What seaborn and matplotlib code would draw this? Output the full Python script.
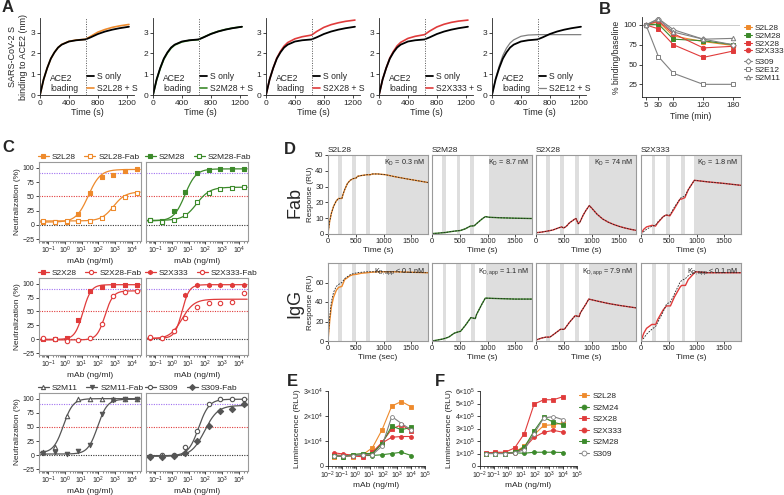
import numpy as np
import matplotlib
matplotlib.use("Agg")
import matplotlib.pyplot as plt
import seaborn as sns
from matplotlib.lines import Line2D
from matplotlib.ticker import LogLocator, FuncFormatter, NullFormatter

sns.set_theme(style="ticks")
plt.rcParams["font.family"] = ["Liberation Sans", "DejaVu Sans"]
plt.rcParams["mathtext.fontset"] = "custom"
plt.rcParams["mathtext.rm"] = "Liberation Sans"
plt.rcParams["mathtext.it"] = "Liberation Sans:italic"
plt.rcParams["mathtext.default"] = "regular"
plt.rcParams["axes.linewidth"] = 0.6
plt.rcParams["axes.edgecolor"] = "#222222"

ORANGE = "#ee8a2c"
GREEN = "#3c8a2b"
RED = "#e03b3b"
GRAY = "#808080"
DARK = "#555555"
PURPLE = "#a070f0"

# ---- panel A : ACE2 loading then S +/- mAb
a_time = [0, 50, 100, 150, 200, 250, 300, 400, 500, 630, 700, 800, 900, 1000, 1100, 1230]
a_s_only = [0, 0.75, 1.3, 1.75, 2.05, 2.28, 2.42, 2.57, 2.63, 2.67, 2.77, 2.93, 3.05, 3.14, 3.21, 3.28]
a_s2l28 = [0, 0.75, 1.3, 1.75, 2.05, 2.28, 2.43, 2.58, 2.64, 2.68, 2.82, 3.02, 3.15, 3.25, 3.32, 3.39]
a_s2m28 = [0, 0.72, 1.27, 1.72, 2.02, 2.25, 2.4, 2.55, 2.62, 2.66, 2.78, 2.94, 3.06, 3.15, 3.22, 3.28]
a_s2x28 = [0, 0.75, 1.3, 1.78, 2.1, 2.35, 2.52, 2.7, 2.8, 2.88, 3.05, 3.25, 3.38, 3.47, 3.54, 3.6]
a_s2x333 = [0, 0.75, 1.3, 1.78, 2.1, 2.36, 2.53, 2.72, 2.82, 2.9, 3.07, 3.27, 3.4, 3.49, 3.55, 3.6]
a_s2e12 = [0, 0.8, 1.4, 1.9, 2.25, 2.5, 2.65, 2.82, 2.88, 2.9, 2.9, 2.9, 2.9, 2.9, 2.9, 2.9]

# ---- panel B
b_time = [5, 30, 60, 120, 180]
b_s2l28 = [100, 104, 86, 79, 74]
b_s2m28 = [100, 101, 82, 80, 75]
b_s2x28 = [100, 95, 75, 59, 67]
b_s2x333 = [100, 105, 89, 71, 73]
b_s309 = [100, 108, 94, 82, 75]
b_s2e12 = [100, 60, 39, 25, 25]
b_s2m11 = [100, 107, 91, 82, 83]

# ---- panel C : neutralization, conc in ng/ml
c_conc = [0.0512, 0.256, 1.28, 6.4, 32, 160, 800, 4000, 20000]
c_s2l28 = [5, 5, 5, 20, 55, 83, 87, 95, 97]
c_s2l28_fab = [7, 5, 7, 7, 7, 12, 30, 49, 56]
c_s2m28 = [8, 7, 25, 58, 90, 96, 97, 98, 98]
c_s2m28_fab = [8, 6, 9, 18, 40, 56, 63, 65, 66]
c_s2x28 = [0, 1, 2, 35, 86, 94, 97, 97, 98]
c_s2x28_fab = [2, 0, -3, -2, 2, 28, 78, 85, 86]
c_s2x333 = [3, 2, 15, 80, 97, 97, 98, 98, 98]
c_s2x333_fab = [4, 2, 15, 38, 58, 65, 66, 67, 83]
c_s2m11 = [5, 14, 70, 100, 100, 100, 100, 100, 100]
c_s2m11_fab = [3, 5, 2, 7, 18, 72, 98, 99, 99]
c_s309 = [-2, 0, 0, 15, 43, 90, 99, 99, 99]
c_s309_fab = [-3, -3, -1, 3, 25, 52, 78, 82, 90]
# fitted curve params: bottom, top, EC50, hill
c_s2l28_fit = [5, 97, 25, 1.2]
c_s2l28_fab_fit = [7, 58, 800, 1.2]
c_s2m28_fit = [7, 98, 6, 1.3]
c_s2m28_fab_fit = [8, 66, 30, 1.1]
c_s2x28_fit = [0, 98, 12, 1.8]
c_s2x28_fab_fit = [-1, 87, 250, 1.8]
c_s2x333_fit = [2, 98, 4, 2.0]
c_s2x333_fab_fit = [1, 72, 4, 1.2]
c_s2m11_fit = [4, 100, 0.8, 1.5]
c_s2m11_fab_fit = [2, 99, 90, 1.5]
c_s309_fit = [-1, 99, 40, 1.4]
c_s309_fab_fit = [-2, 88, 90, 1.1]

# ---- panel D : SPR sensorgrams
fab_s2l28_t = [0, 30, 60, 100, 150, 190, 250, 270, 300, 350, 400, 450, 510, 530, 600, 700, 760, 800, 900, 1040, 1200, 1400, 1600, 1800]
fab_s2l28_y = [0, 8, 13, 17.5, 21, 22.5, 22.5, 25, 28, 32, 34, 35, 35.5, 36.5, 37, 37.5, 37.5, 38, 38, 37.5, 36.3, 35, 33.8, 32.6]
fab_s2m28_t = [0, 100, 190, 250, 300, 400, 450, 510, 600, 690, 760, 800, 900, 960, 1030, 1200, 1500, 1800]
fab_s2m28_y = [0.3, 0.5, 0.8, 1, 1.3, 1.8, 2, 2.2, 3.3, 5, 5.2, 6.5, 9.5, 11, 10.6, 10.3, 10, 9.8]
fab_s2x28_t = [0, 100, 200, 300, 400, 460, 500, 550, 600, 700, 720, 760, 790, 850, 900, 960, 1000, 1100, 1200, 1300, 1400, 1500, 1600, 1700, 1800]
fab_s2x28_y = [0.8, 1.2, 1.8, 2.5, 3.8, 4.5, 3.8, 5, 7, 9.5, 9.8, 6.5, 7.5, 12, 15, 18, 16.5, 12.5, 9.5, 7.5, 6, 4.8, 3.8, 3, 2.3]
fab_s2x333_t = [0, 50, 100, 200, 260, 300, 400, 450, 520, 600, 700, 720, 790, 850, 960, 1200, 1500, 1800]
fab_s2x333_y = [0.3, 3, 4.5, 5.5, 5, 7, 11, 12, 11.5, 16, 22, 22, 23, 28, 34, 33, 32, 30.8]
fab_s2x333_fit = [0, 1.5, 3, 5, 5.5, 7.5, 11, 12, 12, 17, 22, 23, 24, 28, 34, 33, 32, 30.8]

igg_s2l28_t = [0, 30, 60, 100, 150, 190, 250, 300, 400, 450, 520, 600, 700, 770, 900, 1040, 1200, 1500, 1800]
igg_s2l28_y = [0, 20, 35, 45, 52, 55, 56, 63, 67, 68, 68.5, 69.5, 70, 70.5, 71, 71, 71, 70.5, 70]
igg_s2l28_fit = [0, 24, 40, 50, 56, 58, 60, 64, 68, 69, 70, 70.5, 71, 71, 71, 71, 71, 70.5, 70]
igg_s2m28_t = [0, 100, 190, 250, 300, 400, 450, 515, 600, 700, 780, 800, 900, 960, 1200, 1500, 1800]
igg_s2m28_y = [0, 1, 2, 3, 4, 8, 9, 10, 16, 24, 23, 27, 38, 44, 43.5, 43, 43]
igg_s2x28_t = [0, 100, 180, 250, 300, 440, 510, 600, 705, 775, 800, 900, 950, 1100, 1300, 1500, 1800]
igg_s2x28_y = [1, 3, 4, 4, 6, 12, 12, 19, 26, 25, 29, 38, 43, 41, 38.5, 36.5, 34]
igg_s2x333_t = [0, 50, 100, 195, 265, 300, 400, 460, 530, 600, 700, 730, 800, 850, 980, 1200, 1800]
igg_s2x333_y = [0, 8, 13, 17, 17, 22, 32, 36, 36, 45, 55, 57, 57, 63, 71, 70, 70]
igg_s2x333_fit = [0, 3, 7, 12, 15, 19, 30, 38, 40, 48, 60, 62, 64, 67, 71, 70, 70]

# gray buffer (dissociation) windows, s
fab_bands = [[(180, 250), (440, 510), (690, 760), (1040, 1800)],
             [(185, 255), (445, 510), (690, 760), (1030, 1800)],
             [(180, 255), (440, 510), (705, 775), (955, 1800)],
             [(190, 260), (450, 520), (720, 790), (960, 1800)]]
igg_bands = [[(180, 250), (440, 510), (690, 760), (1040, 1800)],
             [(190, 250), (440, 515), (705, 780), (980, 1800)],
             [(180, 250), (440, 510), (705, 775), (950, 1800)],
             [(195, 265), (460, 530), (730, 800), (980, 1800)]]

# ---- panels E / F : luminescence
e_conc = [0.0256, 0.128, 0.64, 3.2, 16, 80, 400, 2000, 10000]
e_s2l28 = [3800, 4200, 3800, 4500, 7300, 14500, 24000, 25800, 23700]
e_s2m24 = [4300, 3800, 4500, 4200, 4200, 4500, 5000, 5500, 4200]
e_s2x28 = [4500, 4200, 4000, 3700, 5500, 9500, 14800, 16500, 14000]
e_s2x333 = [5300, 4800, 4300, 4300, 5000, 9200, 11500, 11800, 11800]
e_s2m28 = [4200, 3700, 4600, 5000, 5000, 9000, 16000, 14500, 15500]
e_s309 = [4000, 4000, 4000, 4500, 4500, 8000, 19800, 17000, 14500]
f_s2l28 = [1.0e5, 1.05e5, 1.05e5, 1.1e5, 1.6e5, 2.5e5, 3.25e5, 3.3e5, 3.45e5]
f_s2m24 = [1.0e5, 1.0e5, 1.0e5, 1.05e5, 1.02e5, 1.1e5, 1.1e5, 1.1e5, 1.08e5]
f_s2x28 = [1.05e5, 1.1e5, 1.1e5, 1.45e5, 2.6e5, 4.95e5, 5.3e5, 5.3e5, 5.55e5]
f_s2x333 = [1.0e5, 1.05e5, 1.0e5, 1.05e5, 1.45e5, 2.3e5, 2.7e5, 2.85e5, 2.7e5]
f_s2m28 = [1.0e5, 1.0e5, 1.0e5, 1.1e5, 1.5e5, 2.8e5, 3.9e5, 3.5e5, 3.3e5]
f_s309 = [1.0e5, 1.0e5, 1.0e5, 1.05e5, 1.3e5, 2.6e5, 3.85e5, 3.95e5, 3.7e5]

W, H = 784, 495
fig = plt.figure(figsize=(W / 100, H / 100), dpi=100)


def px_axes(left, top, right, bottom):
    return fig.add_axes([left / W, 1 - bottom / H, (right - left) / W, (bottom - top) / H])


def prism(ax, size=5.5):
    sns.despine(ax=ax)
    ax.tick_params(labelsize=size, length=2, width=0.6, pad=1.5)
    ax.tick_params(which="minor", length=1.2, width=0.4)


def boxed(ax, size=5.5):
    for s in ax.spines.values():
        s.set_color("#9a9a9a")
        s.set_linewidth(0.8)
    ax.tick_params(labelsize=size, length=2, width=0.6, pad=1.2)
    ax.tick_params(which="minor", length=1.2, width=0.4)


def letter(x, y, s):
    fig.text(x / W, 1 - y / H, s, fontsize=12, fontweight="bold", ha="center", va="center")


def panel_a():
    pairs = [("S2L28 + S", a_s2l28, ORANGE, 1.2), ("S2M28 + S", a_s2m28, GREEN, 1.2),
             ("S2X28 + S", a_s2x28, RED, 1.2), ("S2X333 + S", a_s2x333, RED, 1.2),
             ("S2E12 + S", a_s2e12, GRAY, 0.9)]
    for i, (lab, vals, col, lw) in enumerate(pairs):
        left = 40 + 113 * i
        ax = px_axes(left, 18, left + 94, 95)
        sns.lineplot(x=a_time, y=vals, color=col, lw=lw, ax=ax)
        sns.lineplot(x=a_time, y=a_s_only, color="black", lw=1.3, ax=ax)
        ax.axvline(630, color="#555555", ls=(0, (1, 1.5)), lw=0.7)
        ax.set_xlim(0, 1300)
        ax.set_ylim(0, 3.7)
        ax.set_xticks([0, 400, 800, 1200])
        ax.set_yticks([0, 1, 2, 3])
        ax.set_xlabel("Time (s)", fontsize=6.5, labelpad=1)
        ax.set_ylabel("")
        if i == 0:
            ax.set_ylabel("SARS-CoV-2 S\nbinding to ACE2 (nm)", fontsize=6.5, labelpad=2)
        ax.text(140, 0.55, "ACE2\nloading", fontsize=6.2, ha="left", va="center", linespacing=1.2)
        hands = [Line2D([], [], color="black", lw=1.3), Line2D([], [], color=col, lw=lw)]
        ax.legend(hands, ["S only", lab], loc="lower left", bbox_to_anchor=(0.5, 0.03), frameon=False,
                  fontsize=6.2, handlelength=0.8, handletextpad=0.4, labelspacing=0.35, borderpad=0,
                  borderaxespad=0)
        prism(ax, 6)
    letter(8, 8, "A")


def panel_b():
    ax = px_axes(642, 17, 740, 97)
    ax.axhline(100, color="#cccccc", lw=0.7, zorder=0)
    series = [("S2L28", b_s2l28, ORANGE, "s", True), ("S2M28", b_s2m28, GREEN, "s", True),
              ("S2X28", b_s2x28, RED, "s", True), ("S2X333", b_s2x333, RED, "o", True),
              ("S309", b_s309, GRAY, "D", False), ("S2E12", b_s2e12, GRAY, "s", False),
              ("S2M11", b_s2m11, GRAY, "^", False)]
    hands = []
    for lab, vals, col, mk, filled in series:
        fc = col if filled else "white"
        ms = 3.2 if mk != "D" else 2.8
        sns.lineplot(x=b_time, y=vals, color=col, lw=0.8, marker=mk, markersize=ms,
                     markerfacecolor=fc, markeredgecolor=col, markeredgewidth=0.7, ax=ax)
        hands.append(Line2D([], [], color=col, lw=0.8, marker=mk, markersize=ms,
                            markerfacecolor=fc, markeredgecolor=col, markeredgewidth=0.7))
    ax.set_xlim(-3, 194)
    ax.set_ylim(9, 110)
    ax.set_xticks(b_time)
    ax.set_yticks([25, 50, 75, 100])
    ax.set_xlabel("Time (min)", fontsize=6.2, labelpad=2)
    ax.set_ylabel("% binding/baseline", fontsize=6.2, labelpad=2)
    prism(ax, 5.8)
    names = [s[0] for s in series]
    kw = dict(loc="upper left", frameon=False, fontsize=6, handlelength=0.9, handletextpad=0.35,
              labelspacing=0.0, borderaxespad=0, borderpad=0)
    leg1 = ax.legend(hands[:4], names[:4], bbox_to_anchor=(744 / W, 1 - 24 / H),
                     bbox_transform=fig.transFigure, **kw)
    ax.add_artist(leg1)
    ax.legend(hands[4:], names[4:], bbox_to_anchor=(744 / W, 1 - 58 / H),
              bbox_transform=fig.transFigure, **kw)
    letter(605, 10, "B")


def logistic(x, p):
    bottom, top, ec50, hill = p
    return bottom + (top - bottom) / (1 + (ec50 / x) ** hill)


def panel_c():
    panels = [
        (0, 0, [("S2L28", c_s2l28, c_s2l28_fit, ORANGE, "s", True),
                ("S2L28-Fab", c_s2l28_fab, c_s2l28_fab_fit, ORANGE, "s", False)]),
        (0, 1, [("S2M28", c_s2m28, c_s2m28_fit, GREEN, "s", True),
                ("S2M28-Fab", c_s2m28_fab, c_s2m28_fab_fit, GREEN, "s", False)]),
        (1, 0, [("S2X28", c_s2x28, c_s2x28_fit, RED, "s", True),
                ("S2X28-Fab", c_s2x28_fab, c_s2x28_fab_fit, RED, "o", False)]),
        (1, 1, [("S2X333", c_s2x333, c_s2x333_fit, RED, "h", True),
                ("S2X333-Fab", c_s2x333_fab, c_s2x333_fab_fit, RED, "o", False)]),
        (2, 0, [("S2M11", c_s2m11, c_s2m11_fit, DARK, "^", False),
                ("S2M11-Fab", c_s2m11_fab, c_s2m11_fab_fit, DARK, "v", True)]),
        (2, 1, [("S309", c_s309, c_s309_fit, DARK, "o", False),
                ("S309-Fab", c_s309_fab, c_s309_fab_fit, DARK, "D", True)]),
    ]
    tops = [162, 278, 393]
    bottoms = [241, 355, 471]
    lefts = [39, 146]
    xfit = np.logspace(-1.6, 4.5, 200)
    for r, c, items in panels:
        ax = px_axes(lefts[c], tops[r], lefts[c] + 102, bottoms[r])
        ax.set_xscale("log")
        ax.axhline(90, color=PURPLE, ls=(0, (1, 1.2)), lw=0.8, zorder=0)
        ax.axhline(50, color=RED, ls=(0, (1, 1.2)), lw=0.8, zorder=0)
        ax.axhline(0, color="#333333", ls=(0, (1, 1.2)), lw=0.8, zorder=0)
        hands = []
        for lab, vals, fitp, col, mk, filled in items:
            fc = col if filled else "white"
            ax.plot(xfit, logistic(xfit, fitp), color=col, lw=0.9)
            sns.scatterplot(x=c_conc, y=vals, marker=mk, s=10, color=col, facecolor=fc,
                            edgecolor=col, linewidth=0.8, ax=ax, zorder=3)
            hands.append(Line2D([], [], color=col, lw=0.9, marker=mk, markersize=3,
                                markerfacecolor=fc, markeredgecolor=col, markeredgewidth=0.8))
        ax.set_xlim(10 ** -1.55, 10 ** 4.55)
        ax.set_ylim(-28, 110)
        ax.set_yticks([-25, 0, 25, 50, 75, 100])
        ax.xaxis.set_major_locator(LogLocator(base=10, numticks=20))
        ax.xaxis.set_minor_locator(LogLocator(base=10, subs=[2, 3, 4, 5, 6, 7, 8, 9], numticks=20))
        ax.xaxis.set_minor_formatter(NullFormatter())
        ax.set_xlabel("mAb (ng/ml)", fontsize=6, labelpad=1.5)
        if c == 0:
            ax.set_ylabel("Neutralization (%)", fontsize=6, labelpad=1)
        else:
            ax.tick_params(axis="y", left=False, labelleft=False)
        boxed(ax, 5.0)
        ax.tick_params(axis="x", pad=0.8)
        ax.legend(hands, [it[0] for it in items], loc="lower left", bbox_to_anchor=(-0.02, 1.0), ncol=2,
                  frameon=False, fontsize=6, handlelength=1.3, handletextpad=0.4, columnspacing=1.0,
                  borderaxespad=0, borderpad=0.1)
    letter(8, 148, "C")


def panel_d():
    fab = [("S2L28", fab_s2l28_t, fab_s2l28_y, fab_s2l28_y, ORANGE, r"K$_D$ = 0.3 nM"),
           ("S2M28", fab_s2m28_t, fab_s2m28_y, fab_s2m28_y, GREEN, r"K$_D$ = 8.7 nM"),
           ("S2X28", fab_s2x28_t, fab_s2x28_y, fab_s2x28_y, RED, r"K$_D$ = 74 nM"),
           ("S2X333", fab_s2x333_t, fab_s2x333_y, fab_s2x333_fit, RED, r"K$_D$ = 1.8 nM")]
    igg = [("S2L28", igg_s2l28_t, igg_s2l28_y, igg_s2l28_fit, ORANGE, r"K$_{D,app}$ < 0.1 nM"),
           ("S2M28", igg_s2m28_t, igg_s2m28_y, igg_s2m28_y, GREEN, r"K$_{D,app}$ = 1.1 nM"),
           ("S2X28", igg_s2x28_t, igg_s2x28_y, igg_s2x28_y, RED, r"K$_{D,app}$ = 7.9 nM"),
           ("S2X333", igg_s2x333_t, igg_s2x333_y, igg_s2x333_fit, RED, r"K$_{D,app}$ < 0.1 nM")]
    lefts = [328, 432, 536, 641]
    for row, (data, bands, top, bottom, ymax, yt) in enumerate([
            (fab, fab_bands, 155, 234, 50, [0, 10, 20, 30, 40, 50]),
            (igg, igg_bands, 263, 341, 80, [0, 20, 40, 60])]):
        for j, (name, t, y, yfit, col, kd) in enumerate(data):
            ax = px_axes(lefts[j], top, lefts[j] + 100, bottom)
            for a, b in bands[j]:
                ax.axvspan(a, b, color="#dedede", lw=0, zorder=0)
            sns.lineplot(x=t, y=y, color=col, lw=1.0, ax=ax)
            ax.plot(t, yfit, color="#222222", ls=(0, (2, 1.5)), lw=0.6)
            ax.set_xlim(0, 1800)
            ax.set_ylim(0, ymax)
            ax.set_xticks([0, 500, 1000, 1500])
            ax.set_yticks(yt)
            ax.text(0.97, 0.96, kd, transform=ax.transAxes, ha="right", va="top", fontsize=5.2)
            xl = "Time (sec)" if (row == 1 and j == 0) else "Time (s)"
            ax.set_xlabel(xl, fontsize=6, labelpad=1)
            if j == 0:
                ax.set_ylabel("Response (RU)", fontsize=5.8, labelpad=1)
            else:
                ax.set_ylabel("")
                ax.tick_params(axis="y", left=False, labelleft=False)
            if row == 0:
                ax.set_title(name, loc="left", fontsize=6, pad=2)
            boxed(ax, 5.5)
    fig.text(295 / W, 1 - 203 / H, "Fab", rotation=90, fontsize=13, ha="center", va="center")
    fig.text(295 / W, 1 - 303 / H, "IgG", rotation=90, fontsize=13, ha="center", va="center")
    letter(290, 150, "D")


def lum_fmt(v, pos):
    if v == 0:
        return "0"
    e = int(np.floor(np.log10(v)))
    k = int(round(v / 10 ** e))
    return rf"${k}{{\times}}10^{{{e}}}$"


def panel_ef():
    e_series = [("S2L28", e_s2l28, ORANGE, "s", True), ("S2M24", e_s2m24, GREEN, "o", True),
                ("S2X28", e_s2x28, RED, "s", True), ("S2X333", e_s2x333, RED, "o", True),
                ("S2M28", e_s2m28, GREEN, "s", True), ("S309", e_s309, GRAY, "o", False)]
    f_vals = [f_s2l28, f_s2m24, f_s2x28, f_s2x333, f_s2m28, f_s309]
    for k, (left, ymax, yt) in enumerate([(328, 3e4, [0, 1e4, 2e4, 3e4]),
                                          (480, 6e5, [0, 1e5, 2e5, 3e5, 4e5, 5e5, 6e5])]):
        ax = px_axes(left, 391, left + 97, 466)
        ax.set_xscale("log")
        hands = []
        for i, (lab, vals, col, mk, filled) in enumerate(e_series):
            yv = vals if k == 0 else f_vals[i]
            fc = col if filled else "white"
            ms = 3.0 if mk == "s" else 2.8
            sns.lineplot(x=e_conc, y=yv, color=col, lw=0.8, marker=mk, markersize=ms,
                         markerfacecolor=fc, markeredgecolor=col, markeredgewidth=0.6, ax=ax)
            hands.append(Line2D([], [], color=col, lw=0.8, marker=mk, markersize=3.5,
                                markerfacecolor=fc, markeredgecolor=col, markeredgewidth=0.6))
        ax.set_xlim(1e-2, 1e5)
        ax.set_ylim(0, ymax)
        ax.set_yticks(yt)
        ax.yaxis.set_major_formatter(FuncFormatter(lum_fmt))
        ax.xaxis.set_major_locator(LogLocator(base=10, numticks=20))
        ax.xaxis.set_minor_locator(LogLocator(base=10, subs=[2, 3, 4, 5, 6, 7, 8, 9], numticks=20))
        ax.xaxis.set_minor_formatter(NullFormatter())
        ax.set_xlabel("mAb (ng/ml)", fontsize=6, labelpad=1)
        ax.set_ylabel("Luminescence (RLU)", fontsize=6, labelpad=1)
        prism(ax, 5.0)
        ax.tick_params(axis="x", pad=0.5)
        if k == 1:
            ax.legend(hands, [s[0] for s in e_series], loc="upper left", bbox_to_anchor=(0.99, 1.03),
                      frameon=False, fontsize=6, handlelength=1.2, handletextpad=0.4, labelspacing=0.45,
                      borderaxespad=0)
    letter(292, 382, "E")
    letter(440, 382, "F")


panel_a()
panel_b()
panel_c()
panel_d()
panel_ef()

fig.savefig("out.png", dpi=100)
